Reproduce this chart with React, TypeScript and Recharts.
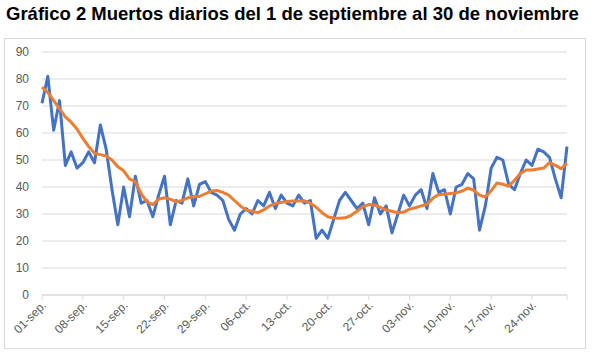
import { LineChart, Line, XAxis, YAxis, CartesianGrid } from 'recharts'

const meses = ['sep.', 'oct.', 'nov.']
const diasPorMes = [30, 31, 30]

// etiquetas de categoría: 01-sep. ... 30-nov.
const fechas = meses.flatMap((m, k) =>
  Array.from({ length: diasPorMes[k] }, (_, d) => `${String(d + 1).padStart(2, '0')}-${m}`)
)

const muertosDiarios = [
  71, 81, 61, 72, 48, 53, 47, 49, 53, 49,
  63, 54, 39, 26, 40, 29, 44, 34, 35, 29,
  37, 44, 26, 35, 34, 43, 33, 41, 42, 38,
  37, 35, 28, 24, 30, 32, 30, 35, 33, 38,
  32, 37, 34, 33, 37, 34, 35, 21, 24, 21,
  28, 35, 38, 35, 32, 34, 26, 36, 30, 33,
  23, 30, 37, 33, 37, 39, 32, 45, 38, 39,
  30, 40, 41, 45, 43, 24, 33, 47, 51, 50,
  41, 39, 45, 50, 48, 54, 53, 51, 43, 36,
  55,
]

const mediaMovil = [
  77, 75, 72, 69, 66, 64, 61.5, 58, 55, 52.5,
  52, 51.5, 50, 47.5, 46, 43, 42, 37.5, 34.5, 33.5,
  35.5, 36, 35.5, 34.5, 35, 36, 36.5, 36.5, 37.5, 38.5,
  38.7, 38, 37, 35, 33, 31.5, 31, 30.5, 31.5, 33,
  33.8, 34.3, 34.6, 34.8, 34.8, 34.9, 34, 32.5, 30.5, 29,
  28.5, 28.4, 28.6, 29.5, 31, 32.7, 33.5, 33.3, 32.5, 31.5,
  31, 30.5, 30.7, 31.8, 32.3, 33, 33.6, 35.8, 37.2, 37.3,
  37.6, 37.8, 38.5, 39.6, 38.8, 37, 36.3, 38.6, 41.5, 41,
  40.3, 42.5, 45, 46.3, 46.3, 46.7, 47, 49, 48, 46.8,
  48.8,
]

const yTicks = [0, 10, 20, 30, 40, 50, 60, 70, 80, 90]

const data = fechas.map((fecha, i) => ({
  fecha,
  diarios: muertosDiarios[i],
  media: mediaMovil[i],
}))

// una marca cada 7 días, más la del final del eje
const xTicks = [...fechas.filter((_, i) => i % 7 === 0), fechas[fechas.length - 1]]

const FONT = '"Liberation Sans", Arial, sans-serif'

function FechaTick({ x, y, payload }: any) {
  if (payload.value === fechas[fechas.length - 1]) return null
  return (
    <text
      transform={`translate(${x + 2},${y + 1}) rotate(-45)`}
      textAnchor="end"
      dy="0.35em"
      fontSize={12}
      fontFamily={FONT}
      fill="#595959"
    >
      {payload.value}
    </text>
  )
}

export default function App() {
  return (
    <div style={{ position: 'absolute', left: 0, top: 0, width: 595, height: 358, background: '#fff' }}>
      <div
        style={{
          position: 'absolute',
          left: 6,
          top: 3,
          fontFamily: FONT,
          fontWeight: 'bold',
          fontSize: 18.5,
          color: '#000',
          whiteSpace: 'nowrap',
        }}
      >
        Gráfico 2 Muertos diarios del 1 de septiembre al 30 de noviembre
      </div>
      <div
        style={{
          position: 'absolute',
          left: 4,
          top: 38,
          width: 580,
          height: 309,
          border: '1px solid #d9d9d9',
        }}
      />
      <div style={{ position: 'absolute', left: 0, top: 0 }}>
        <LineChart width={595} height={358} data={data} margin={{ top: 52, right: 28, bottom: 13, left: 12 }}>
          <CartesianGrid vertical={false} stroke="#d9d9d9" strokeWidth={1} />
          <XAxis
            dataKey="fecha"
            ticks={xTicks}
            interval={0}
            height={50}
            tick={<FechaTick />}
            tickSize={5}
            tickMargin={2}
            stroke="#d9d9d9"
            tickLine={{ stroke: '#d9d9d9' }}
            axisLine={{ stroke: '#d9d9d9' }}
          />
          <YAxis
            domain={[0, 90]}
            ticks={yTicks}
            width={30}
            axisLine={false}
            tickLine={false}
            tickSize={0}
            tickMargin={13}
            tick={{ fontSize: 12, fill: '#595959', fontFamily: FONT }}
          />
          <Line
            type="linear"
            dataKey="diarios"
            stroke="#4472C4"
            strokeWidth={3}
            dot={false}
            strokeLinejoin="round"
            isAnimationActive={false}
          />
          <Line
            type="linear"
            dataKey="media"
            stroke="#ED7D31"
            strokeWidth={3}
            dot={false}
            strokeLinejoin="round"
            isAnimationActive={false}
          />
        </LineChart>
      </div>
    </div>
  )
}
